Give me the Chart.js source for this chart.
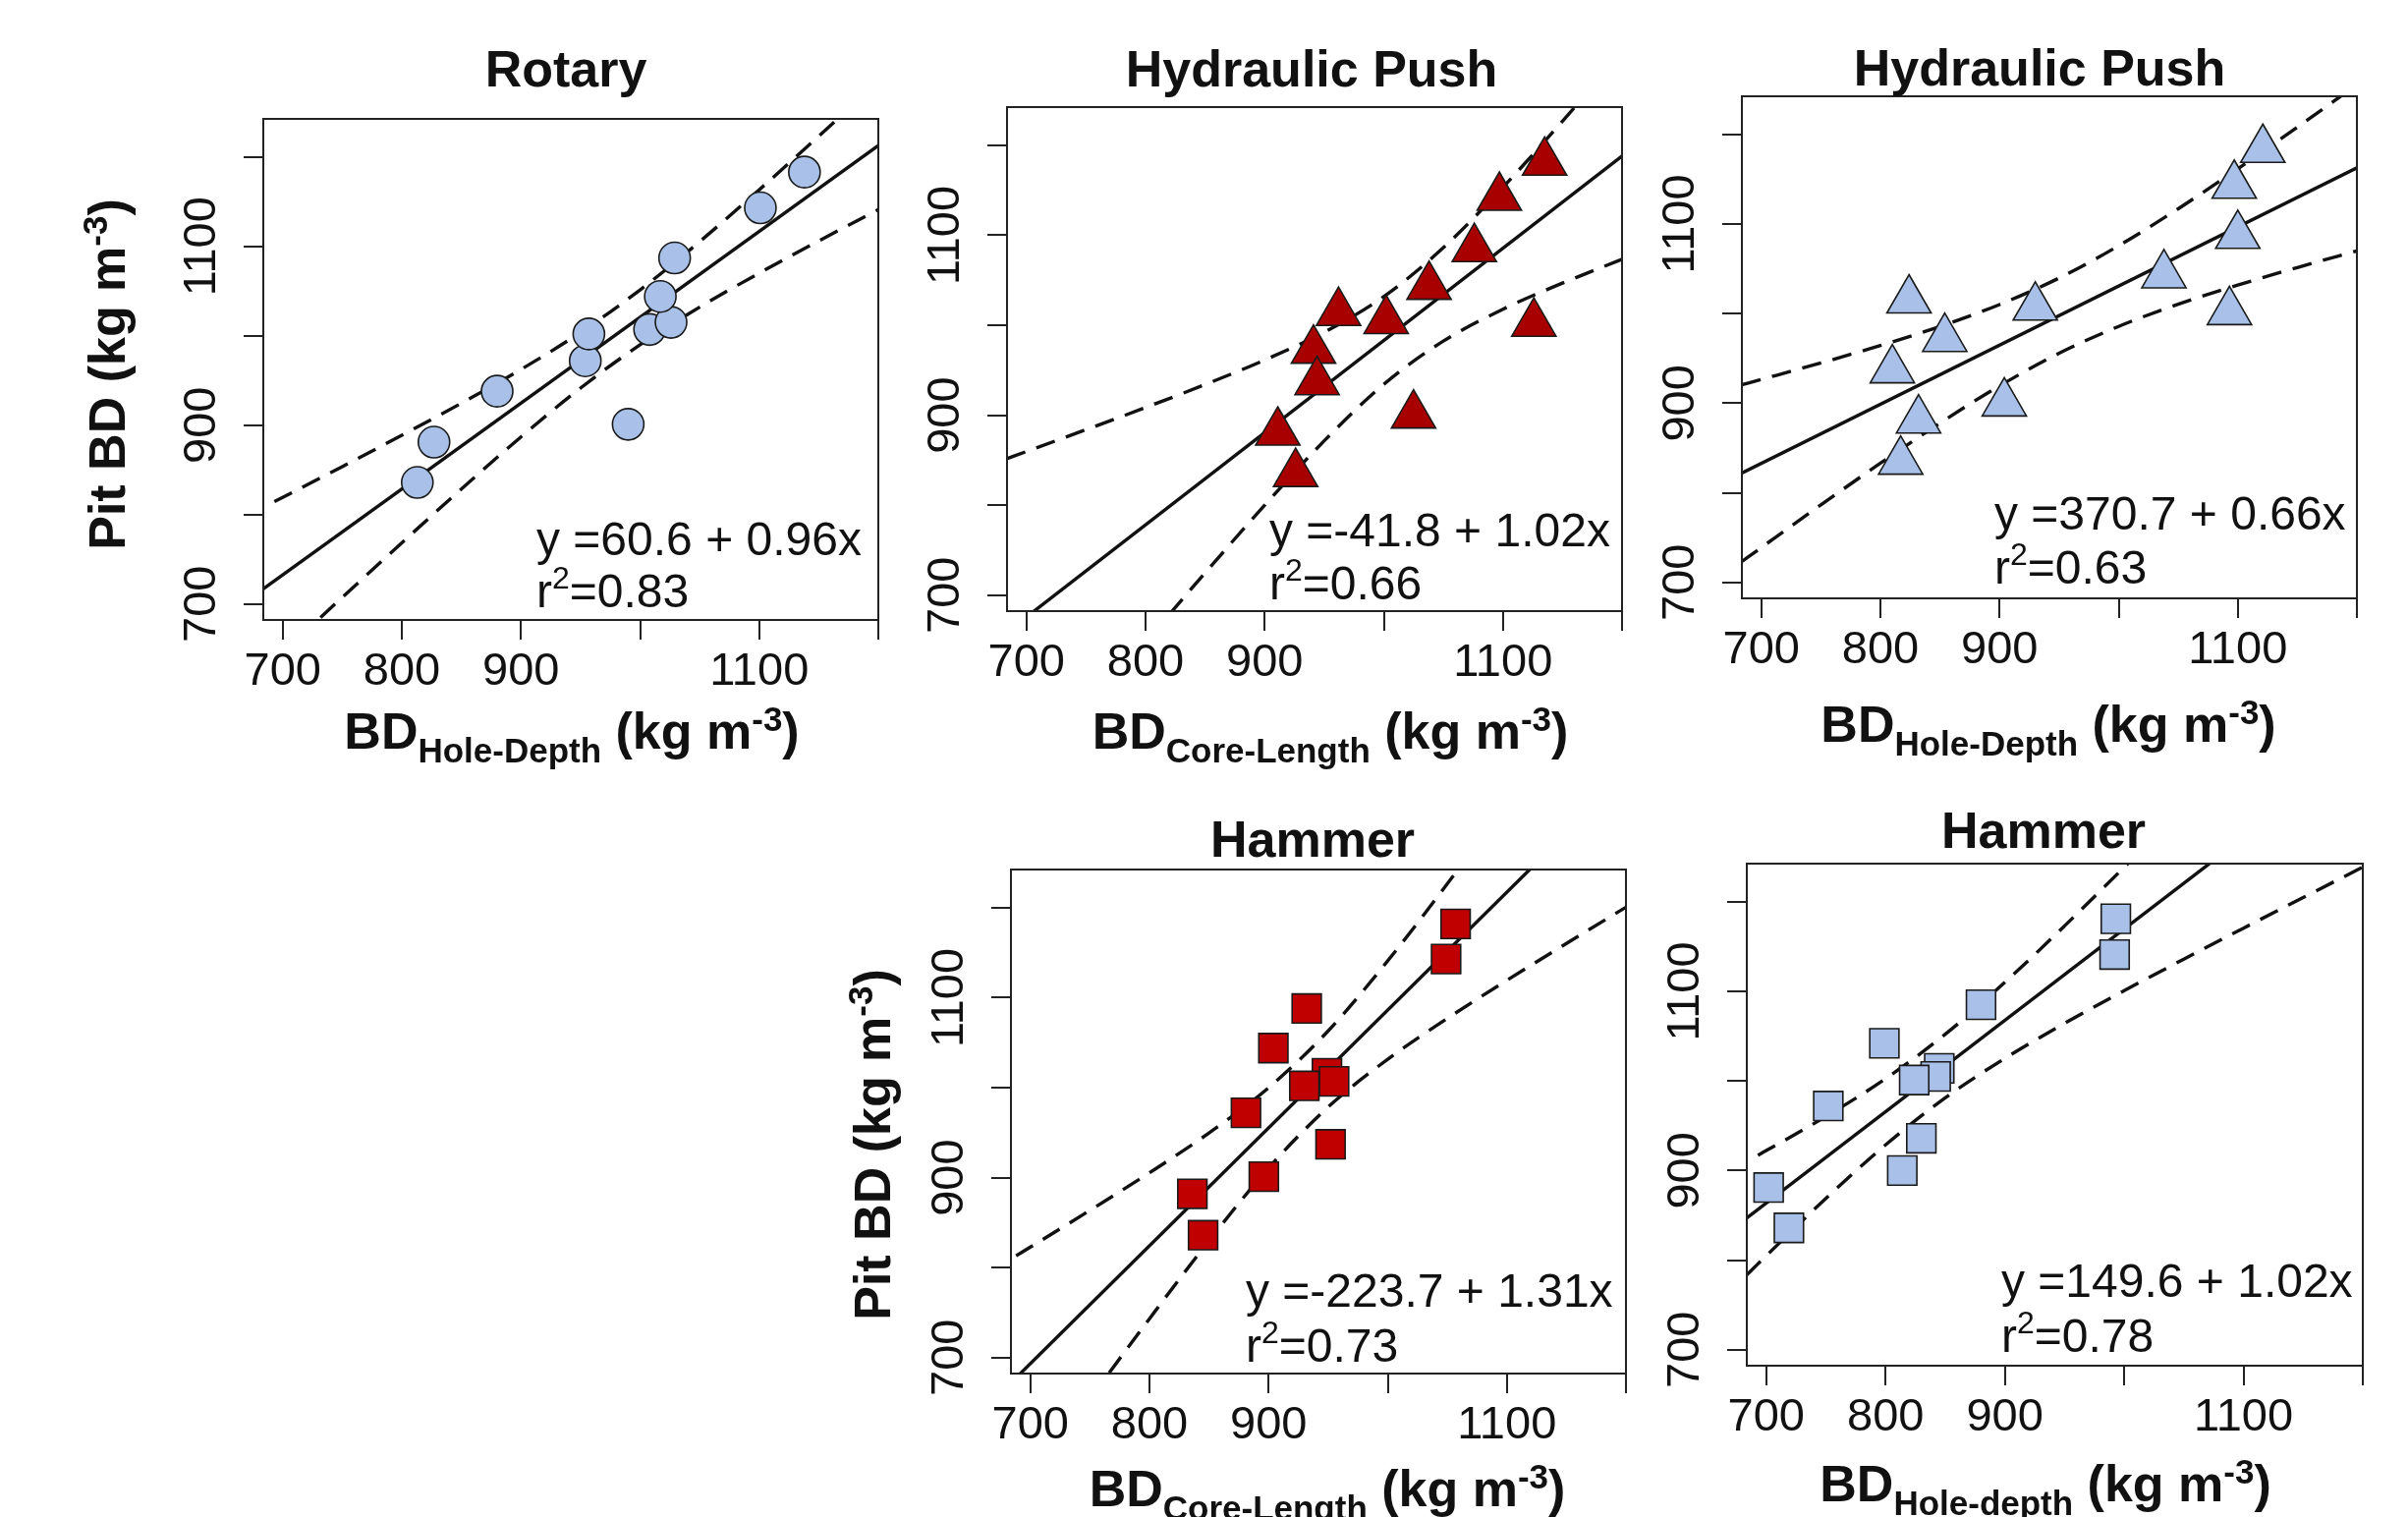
<!DOCTYPE html>
<html><head><meta charset="utf-8">
<script src="https://cdn.jsdelivr.net/npm/chart.js@4.4.0/dist/chart.umd.min.js"></script>
<style>html,body{margin:0;padding:0;background:#fff;width:2451px;height:1544px;overflow:hidden}canvas{position:absolute;left:0;top:0}</style>
</head><body>
<canvas id="c1" width="2451" height="1544"></canvas>
<canvas id="c2" width="2451" height="1544"></canvas>
<canvas id="c3" width="2451" height="1544"></canvas>
<canvas id="c4" width="2451" height="1544"></canvas>
<canvas id="c5" width="2451" height="1544"></canvas>
<script>
// ---------- tick values / labels ----------
const xTicks = [700, 800, 900, 1000, 1100, 1200];
const xTickLabels = ['700', '800', '900', '', '1100', ''];
const yTicks = [700, 800, 900, 1000, 1100, 1200];
const yTickLabels = ['700', '', '900', '', '1100', ''];
const xRange = [683.7, 1200];
const yRange = [682.2, 1242.5];

// ---------- Rotary (BD hole-depth vs pit BD) ----------
const rotaryX = [813, 827, 880, 954, 957, 990, 1008, 1026, 1017, 1029, 1101, 1138];
const rotaryY = [836, 881, 938, 972, 1002, 901, 1007, 1015, 1044, 1087, 1143, 1183];
const rotaryFitX = [683.7, 1200];
const rotaryFitY = [717.0, 1212.6];
const rotaryBandX = [693, 720, 750, 800, 850, 900, 950, 1000, 1050, 1100, 1150, 1200];
const rotaryUpper = [814.5, 833.0, 853.7, 888.7, 924.6, 962.3, 1003.7, 1051.3, 1105.2, 1163.2, 1223.2, 1284.1];
const rotaryLower = [637.3, 670.6, 707.5, 768.5, 828.6, 886.9, 941.5, 989.9, 1032.0, 1070.0, 1106.0, 1141.1];

// ---------- Hydraulic Push (BD core-length) ----------
const hpCoreX = [1135, 1097, 1076, 1038, 1002, 962, 941, 944, 911, 926, 1025, 1126];
const hpCoreY = [1181, 1142, 1085, 1043, 1005, 1014, 972, 937, 881, 835, 900, 1002];
const hpCoreFitX = [683.7, 1200];
const hpCoreFitY = [658.9, 1188.1];
const hpCoreBandX = [683.5, 700, 750, 800, 850, 900, 950, 1000, 1050, 1100, 1150, 1200];
const hpCoreUpper = [851.7, 859.6, 883.9, 908.5, 934.1, 961.3, 992.3, 1031.8, 1086.2, 1153.4, 1226.8, 1302.9];
const hpCoreLower = [465.7, 491.6, 569.9, 647.7, 724.7, 799.9, 871.5, 934.4, 982.4, 1017.8, 1046.8, 1073.3];

// ---------- Hydraulic Push (BD hole-depth) ----------
const hpHoleX = [1121, 1097, 1100, 1038, 1093, 930, 824, 854, 810, 832, 817, 904];
const hpHoleY = [1183, 1143, 1087, 1043, 1002, 1007, 1015, 972, 937, 881, 835, 900];
const hpHoleFitX = [683.7, 1200];
const hpHoleFitY = [822.0, 1162.7];
const hpHoleBandX = [683.5, 700, 750, 800, 850, 900, 950, 1000, 1050, 1100, 1150, 1200];
const hpHoleUpper = [920.5, 926.5, 944.9, 964.4, 985.6, 1010.1, 1039.7, 1075.7, 1117.0, 1161.6, 1208.0, 1255.5];
const hpHoleLower = [723.1, 738.9, 786.5, 833.0, 877.8, 919.3, 955.7, 985.7, 1010.4, 1031.8, 1051.4, 1069.9];

// ---------- Hammer (BD core-length) ----------
const hmCoreX = [1057, 1049, 932, 904, 949, 955, 930, 881, 952, 896, 836, 845];
const hmCoreY = [1182, 1143, 1088, 1044, 1016, 1007, 1002, 972, 937, 901, 882, 836];
const hmCoreFitX = [683.7, 1200];
const hmCoreFitY = [671.9, 1348.3];
const hmCoreBandX = [688, 700, 750, 800, 850, 900, 950, 1000, 1050, 1100, 1150, 1200];
const hmCoreUpper = [813.1, 822.8, 863.6, 905.4, 949.7, 999.9, 1063.1, 1141.0, 1226.6, 1315.3, 1405.3, 1496.0];
const hmCoreLower = [542.1, 563.8, 654.0, 743.2, 829.9, 910.7, 978.5, 1031.6, 1077.0, 1119.3, 1160.3, 1200.6];

// ---------- Hammer (BD hole-depth) ----------
const hmHoleX = [993, 992, 880, 799, 845, 842, 824, 752, 830, 814, 702, 719];
const hmHoleY = [1181, 1141, 1085, 1042, 1014, 1005, 1001, 972, 936, 900, 881, 836];
const hmHoleFitX = [683.7, 1200];
const hmHoleFitY = [847.0, 1373.6];
const hmHoleBandX = [683.5, 693, 700, 750, 800, 850, 900, 950, 1000, 1050, 1100, 1150, 1200];
const hmHoleUpper = [null, 917.2, 922.3, 960.3, 1002.5, 1052.1, 1110.0, 1173.0, 1238.5, 1305.3, 1372.7, 1440.5, 1508.6];
const hmHoleLower = [783.3, 795.8, 804.9, 868.9, 928.7, 981.1, 1025.2, 1064.2, 1100.7, 1135.9, 1170.5, 1204.7, 1238.6];

// ---------- rendering ----------
const W = 2451, H = 1544;
const YAXIS_W = 120, XAXIS_H = 120;
const FONT = '"Liberation Sans", Arial, Helvetica, sans-serif';
const INK = '#111111';

function drawRich(ctx, segs, x, y, align) {
  let w = 0;
  for (const s of segs) {
    ctx.font = (s.bold ? 'bold ' : '') + s.size + 'px ' + FONT;
    s.w = ctx.measureText(s.t).width;
    w += s.w;
  }
  let cx = align === 'center' ? x - w / 2 : x;
  for (const s of segs) {
    ctx.font = (s.bold ? 'bold ' : '') + s.size + 'px ' + FONT;
    ctx.fillText(s.t, cx, y + (s.dy || 0));
    cx += s.w;
  }
}

function axisTitle(main, sub) {
  return [
    {t: main, size: 52, bold: true},
    {t: sub, size: 35, bold: true, dy: 14},
    {t: ' (kg m', size: 52, bold: true},
    {t: '-3', size: 35, bold: true, dy: -18},
    {t: ')', size: 52, bold: true}
  ];
}
function yTitle() {
  return [
    {t: 'Pit BD (kg m', size: 52, bold: true},
    {t: '-3', size: 35, bold: true, dy: -18},
    {t: ')', size: 52, bold: true}
  ];
}

const textPlugin = {
  id: 'panelText',
  afterDraw(chart, args, o) {
    const ctx = chart.ctx;
    const a = chart.chartArea;
    ctx.save();
    ctx.strokeStyle = '#222';
    ctx.lineWidth = 2;
    ctx.strokeRect(a.left, a.top, a.right - a.left, a.bottom - a.top);
    ctx.fillStyle = INK;
    ctx.textBaseline = 'alphabetic';
    ctx.textAlign = 'left';
    drawRich(ctx, [{t: o.title, size: 52, bold: true}], o.titleX, o.titleY, 'center');
    drawRich(ctx, axisTitle('BD', o.xSub), o.xlabX, o.xlabY, 'center');
    if (o.ylab) {
      ctx.save();
      ctx.translate(o.ylabX, o.ylabY);
      ctx.rotate(-Math.PI / 2);
      drawRich(ctx, yTitle(), 0, 0, 'center');
      ctx.restore();
    }
    drawRich(ctx, [{t: o.eq, size: 48}], o.eqX, o.eqY, 'left');
    drawRich(ctx, [{t: 'r', size: 48}, {t: '2', size: 32, dy: -19}, {t: '=' + o.r2, size: 48}], o.eqX, o.r2Y, 'left');
    ctx.restore();
  }
};

function makeChart(id, c) {
  const pts = c.xs.map((x, i) => ({x: x, y: c.ys[i]}));
  const line = (xs, ys) => xs.map((x, i) => ({x: x, y: ys[i]}));
  const dashed = (ys) => ({
    data: line(c.bandX, ys), showLine: true, borderColor: INK, borderWidth: 3.4,
    borderDash: [20, 12], borderCapStyle: 'butt', pointRadius: 0, pointHoverRadius: 0,
    cubicInterpolationMode: 'monotone', fill: false
  });
  new Chart(document.getElementById(id), {
    type: 'scatter',
    plugins: [textPlugin],
    data: {
      datasets: [
        {data: pts, pointStyle: c.marker, pointRadius: c.radius, pointHoverRadius: c.radius,
         pointBackgroundColor: c.fill, pointBorderColor: '#1a1a1a', pointBorderWidth: 1.6,
         pointHoverBorderWidth: 1.6, showLine: false},
        {data: line(c.fitX, c.fitY), showLine: true, borderColor: INK, borderWidth: 3.4,
         pointRadius: 0, pointHoverRadius: 0, fill: false},
        dashed(c.upper),
        dashed(c.lower)
      ]
    },
    options: {
      responsive: false, animation: false, events: [],
      layout: {padding: {left: c.box[0] - YAXIS_W, top: c.box[1], right: W - c.box[2], bottom: H - c.box[3] - XAXIS_H}},
      plugins: {
        legend: {display: false}, title: {display: false}, tooltip: {enabled: false},
        panelText: c.text
      },
      scales: {
        x: {
          type: 'linear', position: 'bottom', min: xRange[0], max: xRange[1],
          afterBuildTicks: s => { s.ticks = xTicks.map(v => ({value: v})); },
          afterFit: s => { s.height = XAXIS_H; },
          border: {display: false},
          grid: {display: true, drawOnChartArea: false, drawTicks: true, tickLength: 20,
                 tickWidth: 2, tickColor: '#222', color: '#222', lineWidth: 2},
          ticks: {autoSkip: false, maxRotation: 0, minRotation: 0, padding: 5,
                  color: INK, font: {family: FONT, size: 47},
                  callback: v => xTickLabels[xTicks.indexOf(v)]}
        },
        y: {
          type: 'linear', position: 'left', min: yRange[0], max: yRange[1],
          afterBuildTicks: s => { s.ticks = yTicks.map(v => ({value: v})); },
          afterFit: s => { s.width = YAXIS_W; },
          border: {display: false},
          grid: {display: true, drawOnChartArea: false, drawTicks: true, tickLength: 20,
                 tickWidth: 2, tickColor: '#222', color: '#222', lineWidth: 2},
          ticks: {autoSkip: false, minRotation: 90, maxRotation: 90, crossAlign: 'center',
                  padding: -9, color: INK, font: {family: FONT, size: 47},
                  callback: v => yTickLabels[yTicks.indexOf(v)]}
        }
      }
    }
  });
}

const BLUE = '#A9C1E8', RED_T = '#A80000', RED_S = '#C00000';

makeChart('c1', {
  xs: rotaryX, ys: rotaryY, fitX: rotaryFitX, fitY: rotaryFitY,
  bandX: rotaryBandX, upper: rotaryUpper, lower: rotaryLower,
  marker: 'circle', radius: 16, fill: BLUE, box: [268, 121, 894, 631],
  text: {title: 'Rotary', titleX: 576, titleY: 88, xSub: 'Hole-Depth', xlabX: 582, xlabY: 762,
         ylab: true, ylabX: 127, ylabY: 381,
         eq: 'y =60.6 + 0.96x', r2: '0.83', eqX: 546, eqY: 565, r2Y: 618}
});
makeChart('c2', {
  xs: hpCoreX, ys: hpCoreY, fitX: hpCoreFitX, fitY: hpCoreFitY,
  bandX: hpCoreBandX, upper: hpCoreUpper, lower: hpCoreLower,
  marker: 'triangle', radius: 26, fill: RED_T, box: [1025, 109, 1651, 622],
  text: {title: 'Hydraulic Push', titleX: 1335, titleY: 88, xSub: 'Core-Length', xlabX: 1354, xlabY: 762,
         ylab: false,
         eq: 'y =-41.8 + 1.02x', r2: '0.66', eqX: 1292, eqY: 556, r2Y: 610}
});
makeChart('c3', {
  xs: hpHoleX, ys: hpHoleY, fitX: hpHoleFitX, fitY: hpHoleFitY,
  bandX: hpHoleBandX, upper: hpHoleUpper, lower: hpHoleLower,
  marker: 'triangle', radius: 26, fill: BLUE, box: [1773, 98, 2399, 609],
  text: {title: 'Hydraulic Push', titleX: 2076, titleY: 87, xSub: 'Hole-Depth', xlabX: 2085, xlabY: 755,
         ylab: false,
         eq: 'y =370.7 + 0.66x', r2: '0.63', eqX: 2030, eqY: 539, r2Y: 594}
});
makeChart('c4', {
  xs: hmCoreX, ys: hmCoreY, fitX: hmCoreFitX, fitY: hmCoreFitY,
  bandX: hmCoreBandX, upper: hmCoreUpper, lower: hmCoreLower,
  marker: 'rect', radius: 21, fill: RED_S, box: [1029, 885, 1655, 1398],
  text: {title: 'Hammer', titleX: 1336, titleY: 872, xSub: 'Core-Length', xlabX: 1351, xlabY: 1533,
         ylab: true, ylabX: 906, ylabY: 1165,
         eq: 'y =-223.7 + 1.31x', r2: '0.73', eqX: 1268, eqY: 1330, r2Y: 1386}
});
makeChart('c5', {
  xs: hmHoleX, ys: hmHoleY, fitX: hmHoleFitX, fitY: hmHoleFitY,
  bandX: hmHoleBandX, upper: hmHoleUpper, lower: hmHoleLower,
  marker: 'rect', radius: 21, fill: BLUE, box: [1778, 879, 2405, 1390],
  text: {title: 'Hammer', titleX: 2080, titleY: 863, xSub: 'Hole-depth', xlabX: 2082, xlabY: 1528,
         ylab: false,
         eq: 'y =149.6 + 1.02x', r2: '0.78', eqX: 2037, eqY: 1320, r2Y: 1376}
});
</script>
</body></html>
